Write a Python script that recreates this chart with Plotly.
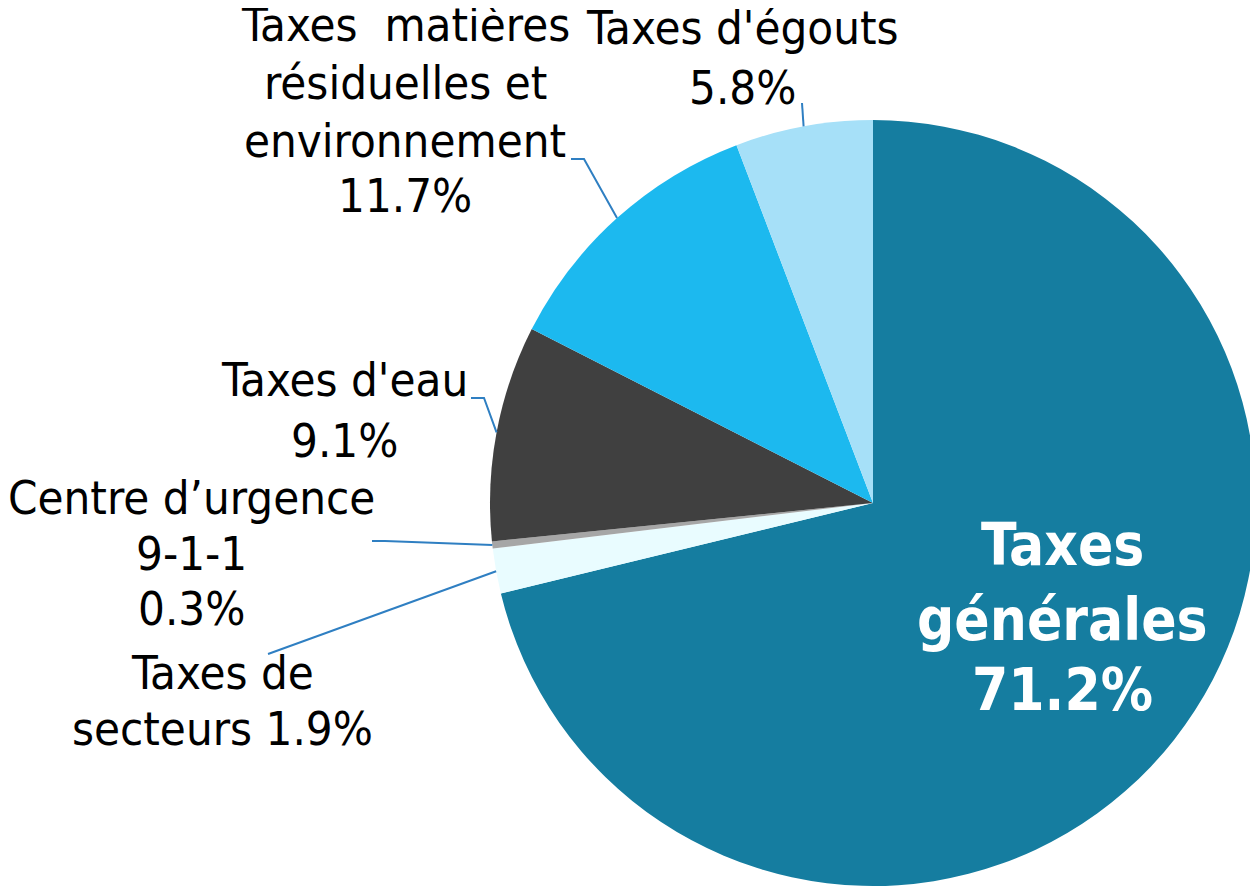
import math
import plotly.graph_objects as go

labels = ["Taxes générales", "Taxes de secteurs", "Centre d’urgence 9-1-1",
          "Taxes d'eau", "Taxes  matières résiduelles et environnement", "Taxes d'égouts"]
values = [71.2, 1.9, 0.3, 9.1, 11.7, 5.8]
colors = ["#157DA0", "#E9FCFF", "#A6A6A6", "#404040", "#1CB9EF", "#A6E0F8"]
label_lines = [
    ["Taxes", "générales", "71.2%"],
    ["Taxes de", "secteurs 1.9%"],
    ["Centre d’urgence", "9-1-1", "0.3%"],
    ["Taxes d'eau", "9.1%"],
    ["Taxes  matières", "résiduelles et", "environnement", "11.7%"],
    ["Taxes d'égouts", "5.8%"],
]

W, H = 1258, 888
OFF = 8  # page body margin
CX, CY, R = 873, 503, 383
FONT = "DejaVu Sans Condensed, DejaVu Sans, sans-serif"

# layout only: label x centre, line y centres (page px), elbow points (page px)
label_x = [1062, 222, 191, 344, 405, 742]
label_y = [[545, 620, 690], [672, 728], [497, 553, 608], [380, 440],
           [25, 82, 140, 195], [28, 88]]
elbows = [None, [(268, 654)], [(385, 541), (372, 541)], [(484, 398), (471, 398)],
          [(584, 159), (571, 159)], [(802, 103)]]

def px2paper(x, y):
    return (x - OFF) / W, 1 - (y - OFF) / H

fig = go.Figure(go.Pie(
    labels=labels, values=values, sort=False, direction="clockwise", rotation=0,
    marker=dict(colors=colors, line=dict(width=0)), textinfo="none", hoverinfo="label+percent",
    domain=dict(x=[(CX - OFF - R) / W, (CX - OFF + R) / W],
                y=[(H - (CY - OFF) - R) / H, (H - (CY - OFF) + R) / H]),
    showlegend=False,
))

total = sum(values)
cum = 0.0
shapes, annotations = [], []
for i, v in enumerate(values):
    mid = (cum + v / 2) / total * 2 * math.pi
    cum += v
    for line, ly in zip(label_lines[i], label_y[i]):
        ax_, ay_ = px2paper(label_x[i], ly)
        if i == 0:
            txt, fnt = "<b>" + line + "</b>", dict(family=FONT, size=58, color="white")
        else:
            txt, fnt = line, dict(family=FONT, size=47, color="black")
        annotations.append(dict(x=ax_, y=ay_, xref="paper", yref="paper", text=txt,
                                showarrow=False, font=fnt, xanchor="center", yanchor="middle"))
    if i == 0:
        continue
    ex, ey = CX + R * math.sin(mid), CY - R * math.cos(mid)
    pts = [(ex, ey)] + elbows[i]
    path = ""
    for j, (x, y) in enumerate(pts):
        px, py = px2paper(x, y)
        path += ("M" if j == 0 else " L") + f" {px:.5f},{py:.5f}"
    shapes.append(dict(type="path", path=path, xref="paper", yref="paper",
                       line=dict(color="#2F7FC2", width=2)))

fig.update_layout(width=W, height=H, margin=dict(l=0, r=0, t=0, b=0),
                  paper_bgcolor="white", plot_bgcolor="white",
                  shapes=shapes, annotations=annotations)
fig.write_html("out.html")
